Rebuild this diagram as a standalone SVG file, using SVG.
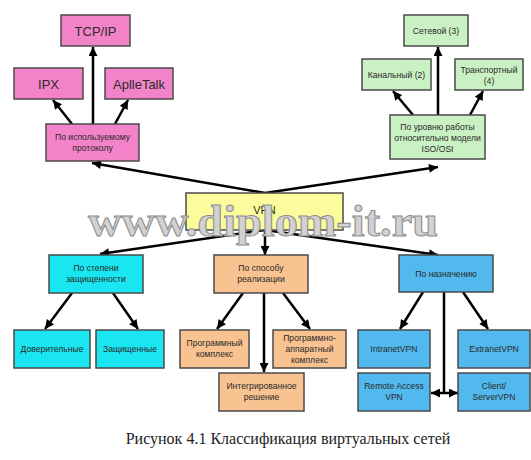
<svg xmlns="http://www.w3.org/2000/svg" width="531" height="460" viewBox="0 0 531 460">
<defs>
<marker id="ah" viewBox="0 0 10 10" refX="10" refY="5" markerWidth="11" markerHeight="9" markerUnits="userSpaceOnUse" orient="auto-start-reverse"><path d="M0,0 L10,5 L0,10 z" fill="#000"/></marker>
</defs>
<style>
rect{stroke:#4a4a4a;stroke-width:1.5}
.pink{fill:#f383c9}.green{fill:#caf1c3}.yellow{fill:#fdfc9c}.cyan{fill:#19e6f0}.peach{fill:#f9c391}.blue{fill:#52b9ee}
text{font-family:"Liberation Sans",Arial,sans-serif;fill:#2a2a2a;text-anchor:middle}
.s{font-size:8.6px}.b{font-size:13px}
.c line{stroke:#000;stroke-width:2.5;marker-end:url(#ah)}
.c line.n{marker-end:none}
.c line.d{marker-start:url(#ah)}
</style>
<rect width="531" height="460" fill="#fff" style="stroke:none"/>
<g class="c" id="connectors">
<line x1="93" y1="124" x2="93" y2="47"/>
<line x1="72" y1="124" x2="53" y2="100"/>
<line x1="115" y1="124" x2="128" y2="100"/>
<line x1="265" y1="193" x2="92" y2="163"/>
<line x1="265" y1="193" x2="438" y2="167"/>
<line x1="438" y1="115" x2="438" y2="47"/>
<line x1="413" y1="115" x2="393" y2="91"/>
<line x1="470" y1="115" x2="483" y2="91"/>
<line x1="265" y1="230" x2="100" y2="254"/>
<line x1="265" y1="230" x2="265" y2="255"/>
<line x1="265" y1="230" x2="438" y2="255"/>
<line x1="72" y1="293" x2="45" y2="329"/>
<line x1="113" y1="293" x2="138" y2="329"/>
<line x1="243" y1="293" x2="217" y2="329"/>
<line x1="283" y1="293" x2="310" y2="329"/>
<line x1="264" y1="293" x2="264" y2="372"/>
<line x1="423" y1="292" x2="400" y2="329"/>
<line x1="463" y1="292" x2="488" y2="329"/>
<line class="n" x1="444" y1="292" x2="444" y2="393"/>
<line class="d" x1="431" y1="393" x2="458" y2="393"/>
</g>
<g id="tcp"><rect class="pink" x="61" y="15" width="69" height="31"/><text class="b" x="95.5" y="35.5">TCP/IP</text></g>
<g id="ipx"><rect class="pink" x="14" y="68" width="69" height="31"/><text class="b" x="48.5" y="88.5">IPX</text></g>
<g id="appletalk"><rect class="pink" x="105" y="68" width="68" height="31"/><text class="b" x="139" y="88.5">AplleTalk</text></g>
<g id="protocol"><rect class="pink" x="46" y="124" width="93" height="37"/><text class="s" x="92.5" y="140">По используемому</text><text class="s" x="92.5" y="151">протоколу</text></g>
<g id="net3"><rect class="green" x="404" y="15" width="64" height="31"/><text class="s" x="436" y="34">Сетевой (3)</text></g>
<g id="kan2"><rect class="green" x="362" y="59" width="69" height="31"/><text class="s" x="396.5" y="78">Канальный (2)</text></g>
<g id="trans4"><rect class="green" x="455" y="59" width="68" height="31"/><text class="s" x="489" y="72.5">Транспортный</text><text class="s" x="489" y="83.5">(4)</text></g>
<g id="iso"><rect class="green" x="390" y="115" width="95" height="44"/><text class="s" x="437.5" y="130">По уровню работы</text><text class="s" x="437.5" y="141">относительно модели</text><text class="s" x="437.5" y="152">ISO/OSI</text></g>
<g id="vpn"><rect class="yellow" x="186" y="193" width="157" height="37"/><text x="264.5" y="214" style="font-size:11px">VPN</text></g>
<g id="security"><rect class="cyan" x="49" y="255" width="94" height="38"/><text class="s" x="96" y="271">По степени</text><text class="s" x="96" y="282">защищенности</text></g>
<g id="method"><rect class="peach" x="214" y="255" width="94" height="38"/><text class="s" x="261" y="271">По способу</text><text class="s" x="261" y="282">реализации</text></g>
<g id="purpose"><rect class="blue" x="399" y="255" width="94" height="37"/><text class="s" x="446" y="276.5">По назначению</text></g>
<g id="trusted"><rect class="cyan" x="14" y="330" width="76" height="38"/><text class="s" x="52" y="352">Доверительные</text></g>
<g id="protected"><rect class="cyan" x="96" y="330" width="68" height="38"/><text class="s" x="130" y="352">Защищенные</text></g>
<g id="software"><rect class="peach" x="180" y="330" width="69" height="38"/><text class="s" x="214.5" y="346">Программный</text><text class="s" x="214.5" y="357">комплекс</text></g>
<g id="hardware"><rect class="peach" x="273" y="330" width="73" height="38"/><text class="s" x="309.5" y="341">Программно-</text><text class="s" x="309.5" y="352">аппаратный</text><text class="s" x="309.5" y="363">комплекс</text></g>
<g id="integrated"><rect class="peach" x="219" y="373" width="85" height="38"/><text class="s" x="261.5" y="389">Интегрированное</text><text class="s" x="261.5" y="400">решение</text></g>
<g id="intranet"><rect class="blue" x="358" y="330" width="72" height="38"/><text class="s" x="394" y="352">IntranetVPN</text></g>
<g id="extranet"><rect class="blue" x="458" y="330" width="72" height="38"/><text class="s" x="494" y="352">ExtranetVPN</text></g>
<g id="remote"><rect class="blue" x="358" y="373" width="72" height="38"/><text class="s" x="394" y="389">Remote Access</text><text class="s" x="394" y="400">VPN</text></g>
<g id="client"><rect class="blue" x="458" y="373" width="72" height="38"/><text class="s" x="494" y="389">Client/</text><text class="s" x="494" y="400">ServerVPN</text></g>
<text x="263" y="236" textLength="350" lengthAdjust="spacingAndGlyphs" style="font-family:'Liberation Serif','Times New Roman',serif;font-weight:bold;font-size:44px;fill:#d2d2d2;stroke:#8c8c8c;stroke-width:1">www.diplom-it.ru</text>
<text x="288" y="444" style="font-family:'Liberation Serif','Times New Roman',serif;font-size:16px;fill:#222">Рисунок 4.1 Классификация виртуальных сетей</text>
</svg>
